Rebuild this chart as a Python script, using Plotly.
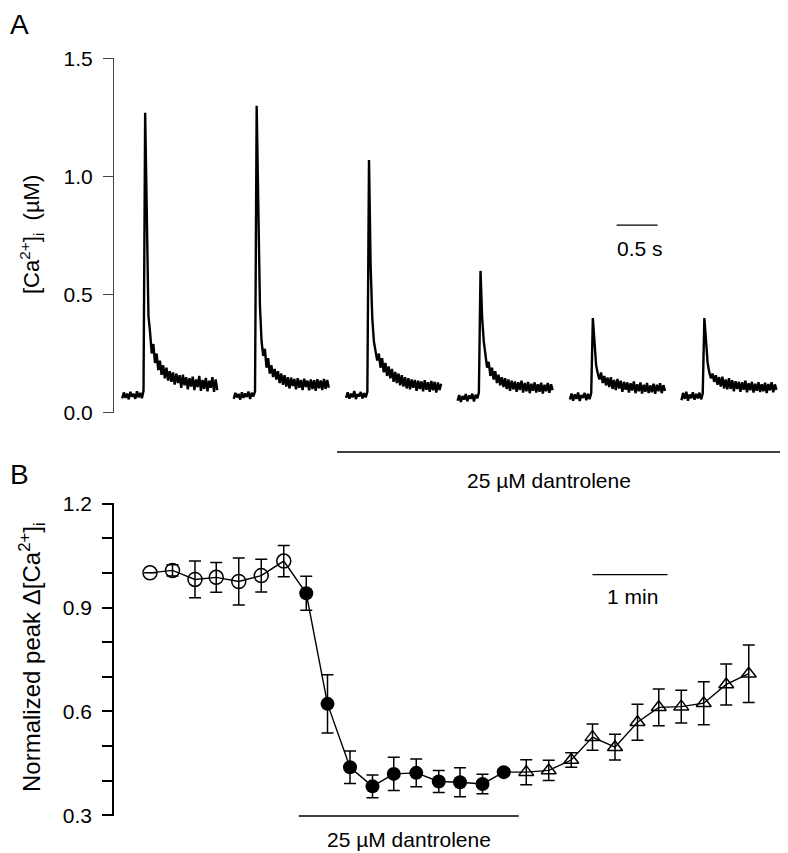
import plotly.graph_objects as go

# ---------------- Panel A data: [Ca2+]i sweeps (µM) ----------------
SAMPLE_DT = 0.02                      # s between samples in each sweep
SWEEP_STARTS = [0.10, 1.46, 2.83, 4.19, 5.56, 6.92]   # s, display offset of each sweep

SWEEP_1 = [0.060, 0.085, 0.062, 0.080, 0.056, 0.088, 0.067, 0.079, 0.058, 0.090, 0.064, 0.083, 0.061, 0.092,
           1.27, 0.74, 0.41, 0.34, 0.25, 0.29, 0.21, 0.25, 0.18, 0.22, 0.16, 0.20, 0.145, 0.19, 0.135,
           0.175, 0.13, 0.17, 0.118, 0.165, 0.125, 0.158, 0.105, 0.16, 0.115, 0.15, 0.098, 0.145, 0.11,
           0.152, 0.095, 0.14, 0.108, 0.155, 0.092, 0.138, 0.10, 0.147, 0.09, 0.135, 0.105, 0.15, 0.088,
           0.14, 0.095]
SWEEP_2 = [0.058, 0.083, 0.064, 0.079, 0.055, 0.086, 0.062, 0.081, 0.066, 0.089, 0.057, 0.084, 0.068, 0.090,
           1.30, 0.80, 0.45, 0.30, 0.24, 0.27, 0.19, 0.23, 0.165, 0.20, 0.15, 0.185, 0.14, 0.175, 0.125,
           0.165, 0.118, 0.158, 0.11, 0.15, 0.102, 0.148, 0.112, 0.142, 0.098, 0.145, 0.105, 0.138, 0.095,
           0.143, 0.108, 0.135, 0.094, 0.14, 0.10, 0.137, 0.092, 0.141, 0.103, 0.136, 0.095, 0.142, 0.10,
           0.138, 0.105]
SWEEP_3 = [0.062, 0.086, 0.059, 0.080, 0.065, 0.091, 0.057, 0.078, 0.069, 0.087, 0.060, 0.082, 0.064, 0.088,
           1.07, 0.62, 0.40, 0.30, 0.26, 0.22, 0.25, 0.19, 0.23, 0.17, 0.21, 0.155, 0.195, 0.145, 0.185,
           0.13, 0.172, 0.125, 0.165, 0.115, 0.158, 0.11, 0.15, 0.102, 0.145, 0.098, 0.14, 0.105, 0.138,
           0.092, 0.135, 0.10, 0.132, 0.09, 0.137, 0.096, 0.128, 0.088, 0.134, 0.094, 0.13, 0.085, 0.127,
           0.095, 0.122]
SWEEP_4 = [0.050, 0.074, 0.045, 0.070, 0.055, 0.078, 0.048, 0.072, 0.058, 0.080, 0.047, 0.075, 0.060, 0.085,
           0.60, 0.40, 0.30, 0.24, 0.19, 0.215, 0.155, 0.19, 0.14, 0.175, 0.125, 0.16, 0.115, 0.15, 0.108,
           0.145, 0.10, 0.14, 0.092, 0.135, 0.098, 0.132, 0.088, 0.128, 0.095, 0.135, 0.085, 0.125, 0.09,
           0.13, 0.082, 0.122, 0.092, 0.128, 0.085, 0.12, 0.088, 0.126, 0.08, 0.118, 0.09, 0.125, 0.084,
           0.12, 0.095]
SWEEP_5 = [0.055, 0.080, 0.050, 0.077, 0.058, 0.085, 0.049, 0.074, 0.062, 0.083, 0.052, 0.079, 0.057, 0.082,
           0.40, 0.29, 0.20, 0.165, 0.14, 0.17, 0.125, 0.155, 0.115, 0.148, 0.108, 0.15, 0.10, 0.138, 0.095,
           0.142, 0.102, 0.135, 0.088, 0.13, 0.097, 0.128, 0.085, 0.124, 0.093, 0.132, 0.082, 0.12, 0.09,
           0.127, 0.08, 0.118, 0.088, 0.125, 0.083, 0.115, 0.086, 0.122, 0.079, 0.118, 0.09, 0.124, 0.082,
           0.116, 0.092]
SWEEP_6 = [0.052, 0.083, 0.058, 0.088, 0.050, 0.076, 0.061, 0.086, 0.054, 0.079, 0.060, 0.084, 0.056, 0.080,
           0.40, 0.28, 0.21, 0.17, 0.145, 0.165, 0.13, 0.158, 0.118, 0.15, 0.11, 0.152, 0.102, 0.14, 0.098,
           0.145, 0.10, 0.137, 0.09, 0.133, 0.10, 0.13, 0.088, 0.128, 0.096, 0.135, 0.086, 0.124, 0.094,
           0.13, 0.085, 0.122, 0.092, 0.128, 0.087, 0.12, 0.09, 0.126, 0.083, 0.121, 0.094, 0.128, 0.086,
           0.119, 0.096]
SWEEPS = [SWEEP_1, SWEEP_2, SWEEP_3, SWEEP_4, SWEEP_5, SWEEP_6]

DANTROLENE_A = [2.72, 8.21]           # s, drug bar under sweeps 3-6
SCALEBAR_A = [6.13, 6.63]             # s, 0.5 s scale bar
SCALEBAR_A_LEVEL = 0.794              # µM

# ---------------- Panel B data: normalized peak Δ[Ca2+]i ----------------
TIME_B = [0, 18, 36, 53, 71, 89, 107, 125, 142, 160, 178, 195, 213, 231,
          248, 266, 283, 301, 319, 337, 354, 372, 390, 407, 425, 443, 461, 479]   # s
CONTROL_Y = [1.000, 1.007, 0.981, 0.987, 0.975, 0.992, 1.034]
CONTROL_ERR = [0.0, 0.016, 0.053, 0.043, 0.068, 0.047, 0.045]
DANT_Y = [0.941, 0.622, 0.439, 0.384, 0.420, 0.423, 0.398, 0.396, 0.391, 0.425]
DANT_ERR = [0.049, 0.084, 0.047, 0.033, 0.048, 0.040, 0.032, 0.042, 0.028, 0.010]
WASH_Y = [0.425, 0.430, 0.460, 0.526, 0.497, 0.569, 0.612, 0.614, 0.624, 0.678, 0.709]
WASH_ERR = [0.036, 0.029, 0.021, 0.038, 0.037, 0.052, 0.053, 0.047, 0.062, 0.059, 0.083]

DANTROLENE_B = [119, 295]             # s
SCALEBAR_B = [354, 414]               # s, 1 min scale bar
SCALEBAR_B_LEVEL = 0.995

FONT = "Liberation Sans, Arial, Helvetica, sans-serif"

# The page body has an 8 px margin, so the figure is 8 px smaller than the window
# and all page-pixel layout positions are shifted by that margin.
PAGE_MARGIN = 8
W, H = 788 - PAGE_MARGIN, 853 - PAGE_MARGIN


def px(x):
    return (x - PAGE_MARGIN) / W


def py(y):
    return 1 - (y - PAGE_MARGIN) / H


fig = go.Figure()

# Panel A sweeps
for start, sweep in zip(SWEEP_STARTS, SWEEPS):
    xs = [start + i * SAMPLE_DT for i in range(len(sweep))]
    fig.add_trace(go.Scatter(x=xs, y=sweep, mode="lines",
                             line=dict(color="black", width=2.4),
                             xaxis="x", yaxis="y", hoverinfo="skip"))

# Panel A 0.5 s scale bar
fig.add_trace(go.Scatter(x=SCALEBAR_A, y=[SCALEBAR_A_LEVEL] * 2, mode="lines",
                         line=dict(color="black", width=1.3), xaxis="x", yaxis="y"))

# Panel B connecting line
n1, n2 = len(CONTROL_Y), len(DANT_Y)
t_ctrl = TIME_B[:n1]
t_dant = TIME_B[n1:n1 + n2]
t_wash = TIME_B[n1 + n2:]
fig.add_trace(go.Scatter(x=TIME_B, y=CONTROL_Y + DANT_Y + WASH_Y, mode="lines",
                         line=dict(color="black", width=1.4), xaxis="x2", yaxis="y2"))

err_style = dict(type="data", color="black", thickness=1.5, width=6)
fig.add_trace(go.Scatter(x=t_ctrl, y=CONTROL_Y, mode="markers",
                         error_y=dict(array=CONTROL_ERR, **err_style),
                         marker=dict(symbol="circle-open", size=14, color="black",
                                     line=dict(width=1.5, color="black")),
                         xaxis="x2", yaxis="y2", cliponaxis=False))
fig.add_trace(go.Scatter(x=t_dant, y=DANT_Y, mode="markers",
                         error_y=dict(array=DANT_ERR, **err_style),
                         marker=dict(symbol="circle", size=14, color="black",
                                     line=dict(width=0)),
                         xaxis="x2", yaxis="y2", cliponaxis=False))
fig.add_trace(go.Scatter(x=t_wash, y=WASH_Y, mode="markers",
                         error_y=dict(array=WASH_ERR, **err_style),
                         marker=dict(symbol="triangle-up-open", size=13, color="black",
                                     line=dict(width=1.5, color="black")),
                         xaxis="x2", yaxis="y2", cliponaxis=False))

# Panel B 1 min scale bar
fig.add_trace(go.Scatter(x=SCALEBAR_B, y=[SCALEBAR_B_LEVEL] * 2, mode="lines",
                         line=dict(color="black", width=1.3), xaxis="x2", yaxis="y2"))

shapes = [
    dict(type="line", xref="x", yref="paper", x0=DANTROLENE_A[0], x1=DANTROLENE_A[1],
         y0=py(452), y1=py(452), line=dict(color="black", width=1.3)),
    dict(type="line", xref="x2", yref="y2 domain", x0=DANTROLENE_B[0], x1=DANTROLENE_B[1],
         y0=0, y1=0, line=dict(color="black", width=1.3)),
]

ann_font = dict(family=FONT, size=21, color="black")
annotations = [
    dict(text="A", x=px(19), y=1, xref="paper", yref="paper", showarrow=False, borderpad=0,
         font=dict(family=FONT, size=28, color="black"), xanchor="center", yanchor="top"),
    dict(text="B", x=px(19), y=py(474), xref="paper", yref="paper", showarrow=False,
         font=dict(family=FONT, size=28, color="black"), xanchor="center", yanchor="middle"),
    dict(text="[Ca<sup>2+</sup>]<sub>i</sub>  (µM)", x=px(32), y=py(235),
         xref="paper", yref="paper", showarrow=False, textangle=-90,
         font=dict(family=FONT, size=22, color="black"), xanchor="center", yanchor="middle"),
    dict(text="Normalized peak Δ[Ca<sup>2+</sup>]<sub>i</sub>", x=px(32), y=py(657),
         xref="paper", yref="paper", showarrow=False, textangle=-90,
         font=dict(family=FONT, size=24, color="black"), xanchor="center", yanchor="middle"),
    dict(text="0.5 s", x=sum(SCALEBAR_A) / 2 + 0.03, y=0.697, xref="x", yref="y",
         showarrow=False, font=ann_font, xanchor="center", yanchor="middle"),
    dict(text="25 µM dantrolene", x=5.30, y=py(481), xref="x", yref="paper",
         showarrow=False, font=ann_font, xanchor="center", yanchor="middle"),
    dict(text="1 min", x=386, y=0.933, xref="x2", yref="y2",
         showarrow=False, font=ann_font, xanchor="center", yanchor="middle"),
    dict(text="25 µM dantrolene", x=sum(DANTROLENE_B) / 2, y=py(839), xref="x2", yref="paper",
         showarrow=False, font=ann_font, xanchor="center", yanchor="middle"),
]

fig.update_layout(
    width=W, height=H, margin=dict(l=0, r=0, t=0, b=0, pad=0, autoexpand=False),
    paper_bgcolor="white", plot_bgcolor="white", showlegend=False,
    font=dict(family=FONT, size=21, color="black"),
    xaxis=dict(domain=[px(114), 1], range=[0, 8.22], visible=False, anchor="y"),
    yaxis=dict(domain=[py(413), py(58)], range=[-0.002, 1.502], anchor="x",
               tickvals=[0, 0.5, 1.0, 1.5], ticktext=["0.0", "0.5", "1.0", "1.5"],
               ticks="outside", ticklen=10, tickwidth=1, tickcolor="#444",
               showline=True, linecolor="#444", linewidth=1,
               showgrid=False, zeroline=False, ticklabelstandoff=6,
               tickfont=dict(family=FONT, size=21, color="black")),
    xaxis2=dict(domain=[px(114), 1], range=[-28.8, 510.4], visible=False, anchor="y2"),
    yaxis2=dict(domain=[py(816), py(503)], range=[0.2985, 1.2015], anchor="x2",
                tickvals=[0.3, 0.4, 0.5, 0.6, 0.7, 0.8, 0.9, 1.0, 1.1, 1.2],
                ticktext=["0.3", "", "", "0.6", "", "", "0.9", "", "", "1.2"],
                ticks="outside", ticklen=10, tickwidth=1.5, tickcolor="black",
                showline=True, linecolor="black", linewidth=1.5,
                showgrid=False, zeroline=False, ticklabelstandoff=6,
                tickfont=dict(family=FONT, size=21, color="black")),
    shapes=shapes, annotations=annotations,
)

fig.write_html("out.html")
